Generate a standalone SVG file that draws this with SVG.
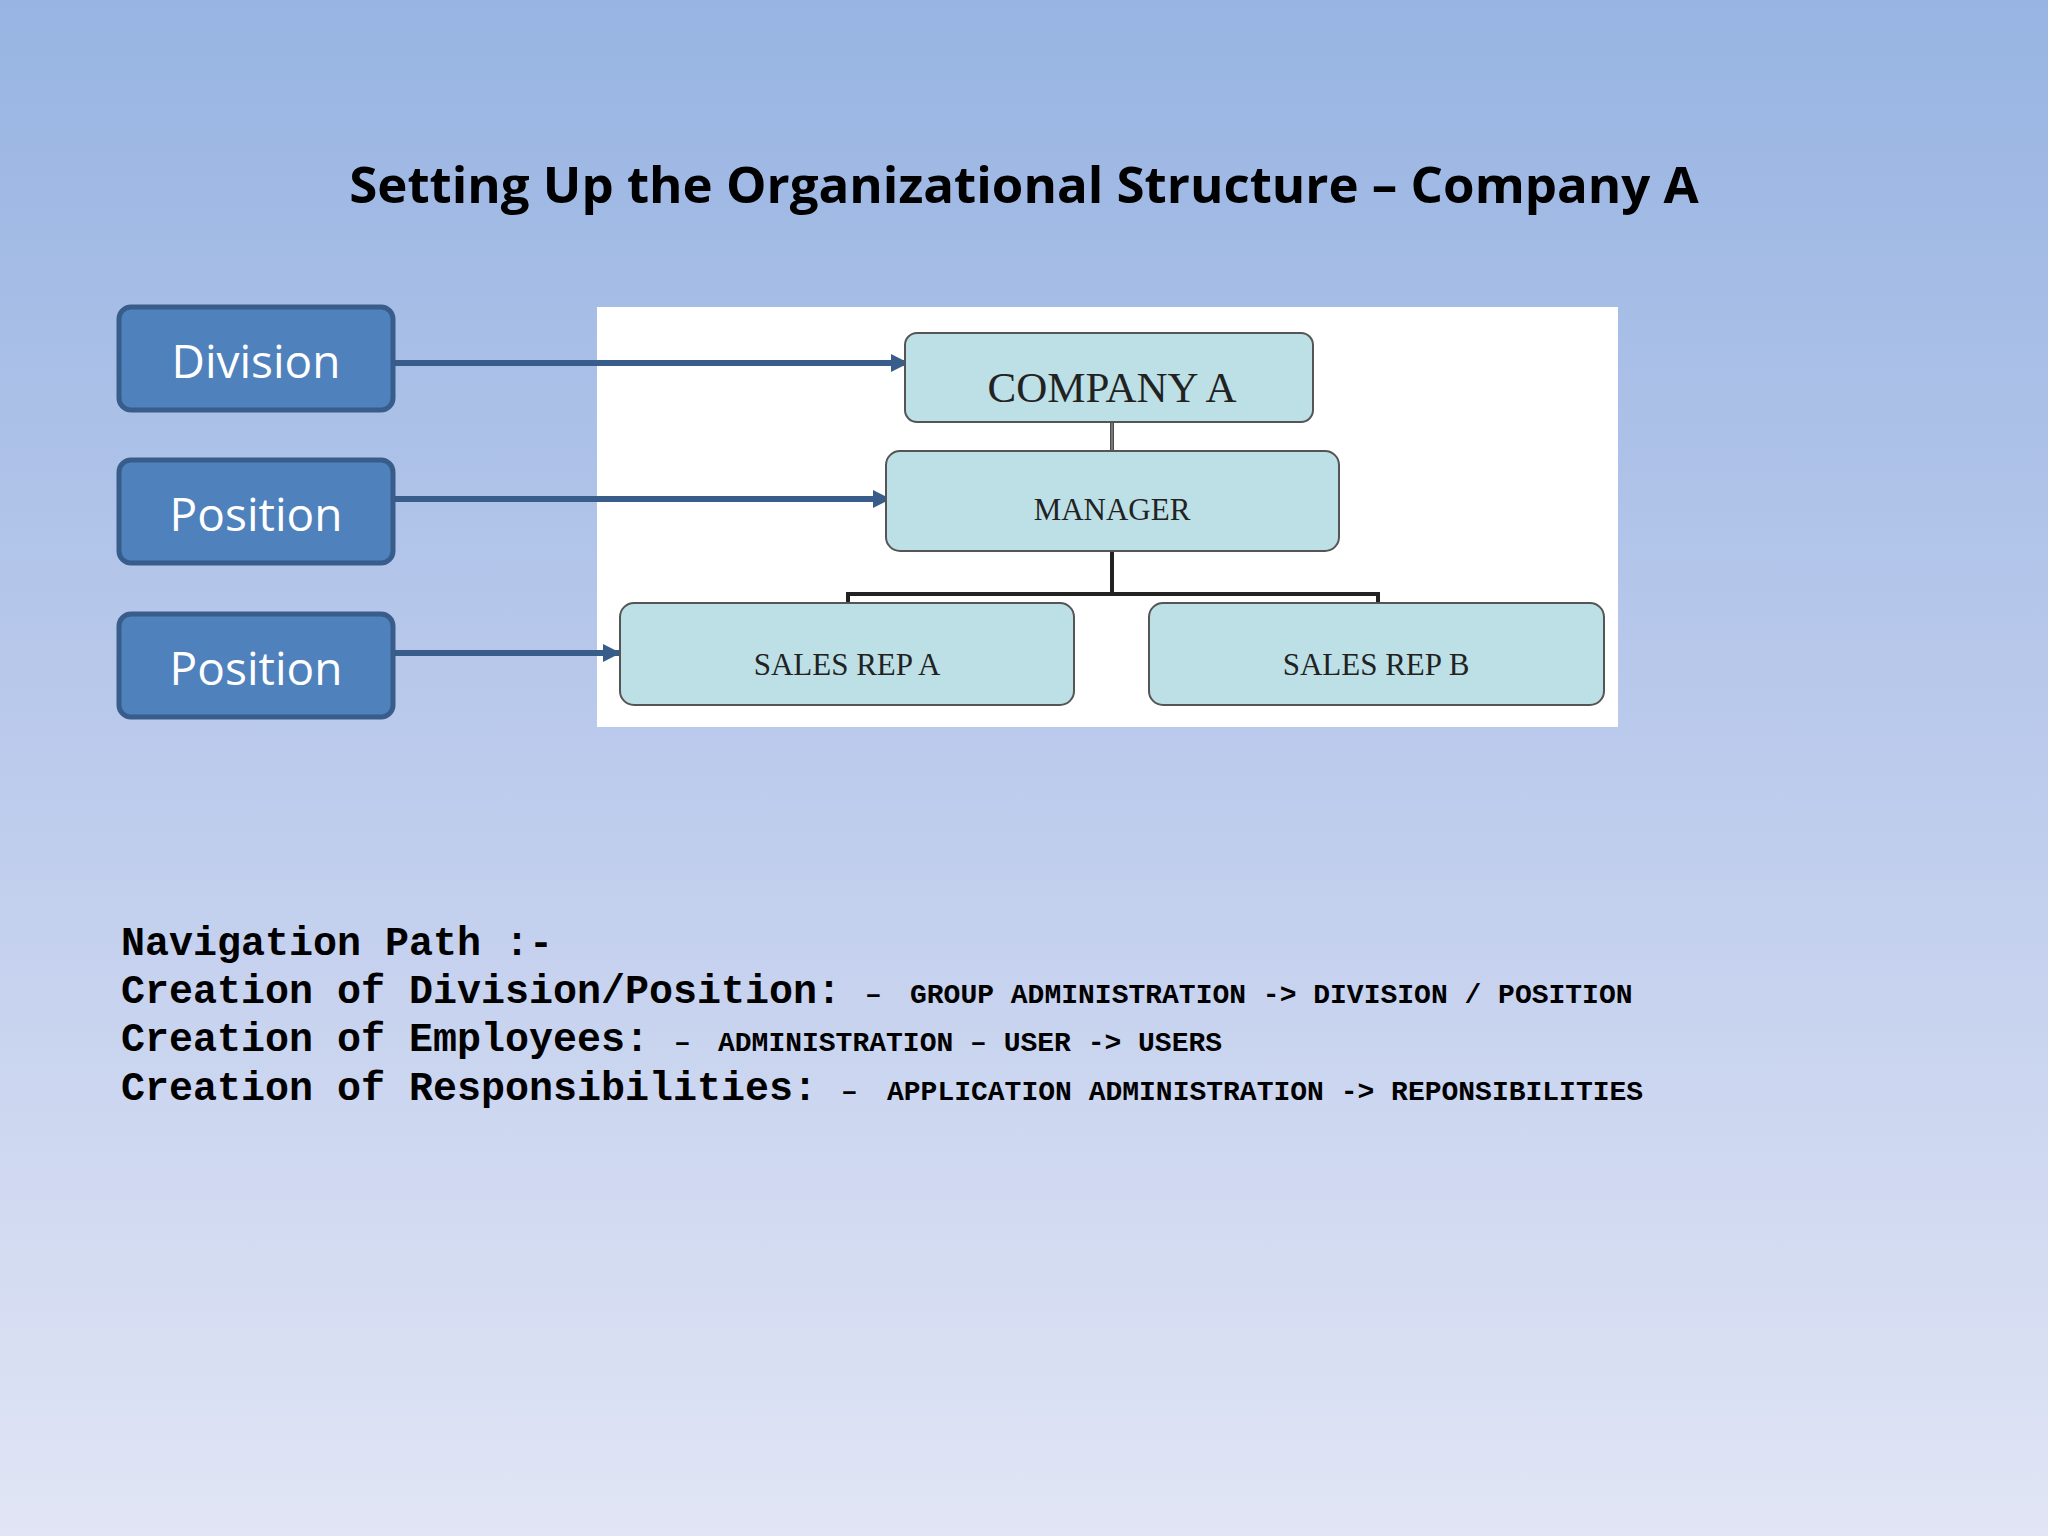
<svg xmlns="http://www.w3.org/2000/svg" width="2048" height="1536" viewBox="0 0 2048 1536">
<defs>
<linearGradient id="bg" x1="0" y1="0" x2="0" y2="1"><stop offset="0" stop-color="#97b4e2"/><stop offset="0.5" stop-color="#bccbec"/><stop offset="1" stop-color="#e1e5f5"/></linearGradient>
<marker id="ah" viewBox="0 0 10 10" refX="9" refY="5" markerWidth="3" markerHeight="3" orient="auto"><path d="M0,0 L10,5 L0,10 z" fill="#385d8a"/></marker>
<style>
.lb rect{fill:#4f81bd;stroke:#385d8a;stroke-width:5}
.lb text{font-family:"Open Sans","Liberation Sans",sans-serif;font-size:46px;fill:#fff;text-anchor:middle}
.ob rect{fill:#bce0e6;stroke:#555;stroke-width:2}
.ob text{font-family:"Liberation Serif",serif;fill:#222;text-anchor:middle}
.nav{font-family:"Liberation Mono",monospace;font-weight:bold;font-size:40px;fill:#000}
.sm{font-size:28px}
</style>
</defs>
<rect width="2048" height="1536" fill="url(#bg)"/>
<text x="1024" y="203" text-anchor="middle" font-family="Open Sans, Liberation Sans, sans-serif" font-weight="bold" font-size="51" fill="#000">Setting Up the Organizational Structure – Company A</text>
<rect x="597" y="307" width="1021" height="420" fill="#fff"/>
<g id="connectors" fill="none">
<path d="M1112,422 V451 M1112,551 V594 M848,603 V594 H1378 V603" stroke="#222" stroke-width="4"/>
<path d="M1112,422 V451" stroke="#777" stroke-width="3"/>
<g stroke="#385d8a" stroke-width="6" marker-end="url(#ah)">
<line x1="393" y1="363" x2="907" y2="363"/>
<line x1="393" y1="499" x2="889" y2="499"/>
<line x1="393" y1="653" x2="619" y2="653"/>
</g>
</g>
<g id="division" class="lb"><rect x="119" y="307" width="274" height="103" rx="12"/><text x="256" y="378">Division</text></g>
<g id="position1" class="lb"><rect x="119" y="460" width="274" height="103" rx="12"/><text x="256" y="531">Position</text></g>
<g id="position2" class="lb"><rect x="119" y="614" width="274" height="103" rx="12"/><text x="256" y="685">Position</text></g>
<g id="companyA" class="ob"><rect x="905" y="333" width="408" height="89" rx="12"/><text x="1112" y="402" font-size="43">COMPANY A</text></g>
<g id="manager" class="ob"><rect x="886" y="451" width="453" height="100" rx="14"/><text x="1112" y="520" font-size="31">MANAGER</text></g>
<g id="salesA" class="ob"><rect x="620" y="603" width="454" height="102" rx="14"/><text x="847" y="675" font-size="31">SALES REP  A</text></g>
<g id="salesB" class="ob"><rect x="1149" y="603" width="455" height="102" rx="14"/><text x="1376" y="675" font-size="31">SALES REP  B</text></g>
<g id="nav" class="nav">
<text x="121" y="955">Navigation Path :-</text>
<text x="121" y="1003">Creation of Division/Position:<tspan class="sm" x="865">–</tspan><tspan class="sm" x="910">GROUP ADMINISTRATION -&gt; DIVISION / POSITION</tspan></text>
<text x="121" y="1051">Creation of Employees:<tspan class="sm" x="674">–</tspan><tspan class="sm" x="718">ADMINISTRATION – USER -&gt; USERS</tspan></text>
<text x="121" y="1100">Creation of Responsibilities:<tspan class="sm" x="841">–</tspan><tspan class="sm" x="887">APPLICATION ADMINISTRATION -&gt; REPONSIBILITIES</tspan></text>
</g>
</svg>
